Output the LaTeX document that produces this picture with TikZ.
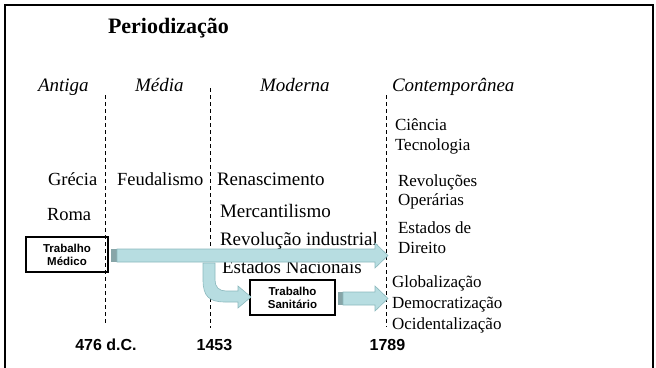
\documentclass[tikz,border=0pt]{standalone}
\usepackage{fontspec}
\setmainfont{Liberation Serif}
\setsansfont{Liberation Sans}
\usetikzlibrary{calc}
\definecolor{arrfill}{RGB}{183,221,225}
\definecolor{arredge}{RGB}{140,185,190}
\definecolor{arrcap}{RGB}{135,165,168}
\begin{document}
\begin{tikzpicture}[x=1pt,y=-1pt,
  every node/.style={inner sep=0pt,outer sep=0pt},
  txt/.style={anchor=base west,font=\fontsize{18.5}{22}\selectfont},
  mtxt/.style={anchor=base west,font=\fontsize{19}{22}\selectfont},
  ctxt/.style={anchor=base west,font=\fontsize{17}{20}\selectfont},
  head/.style={anchor=base west,font=\fontsize{19}{22}\selectfont\itshape},
  datelbl/.style={anchor=base,font=\fontsize{16}{18}\selectfont\sffamily\bfseries},
  tbox/.style={draw,line width=1.2pt,align=center,
    font=\fontsize{11.5}{13}\selectfont\sffamily\bfseries},
  divider/.style={dash pattern=on 4pt off 3pt,line width=0.9pt},
  fatarrow/.style={fill=arrfill,draw=arredge,line width=0.6pt},
  frameline/.style={line width=2.5pt}]
\useasboundingbox (0,0) rectangle (656,367);
% frame
\coordinate (fbl) at (5,372);
\coordinate (ftl) at (5,5);
\coordinate (ftr) at (653,5);
\coordinate (fbr) at (653,372);
\draw[frameline] (fbl) -- (ftl) -- (ftr) -- (fbr);
% title
\node[anchor=base west,font=\fontsize{22}{26}\selectfont\bfseries] (title) at (108,33) {Periodização};
% headings
\node[head] (antiga) at (38,91) {Antiga};
\node[head] (media) at (135,91) {Média};
\node[head] (moderna) at (260,91) {Moderna};
\node[head] (contemp) at (392,91) {Contemporânea};
% dividers
\coordinate (d1t) at (105,95);  \coordinate (d1b) at (105,325);
\coordinate (d2t) at (210,88);  \coordinate (d2b) at (210,328);
\coordinate (d3t) at (386,95);  \coordinate (d3b) at (386,327);
\draw[divider] (d1t) -- (d1b);
\draw[divider] (d2t) -- (d2b);
\draw[divider] (d3t) -- (d3b);
% column texts
\node[txt] (grecia) at (48,185) {Grécia};
\node[txt] (roma) at (47,220) {Roma};
\node[txt] (feud) at (117,185) {Feudalismo};
\node[mtxt] (renas) at (217,185) {Renascimento};
\node[mtxt] (merc) at (220,217) {Mercantilismo};
\node[mtxt] (revind) at (220,245) {Revolução industrial};
\node[mtxt] (estnac) at (222,273) {Estados Nacionais};
\node[ctxt] (ciencia) at (395,130) {Ciência};
\node[ctxt] (tecno) at (395,150) {Tecnologia};
\node[ctxt] (revol) at (398,186) {Revoluções};
\node[ctxt] (oper) at (398,205) {Operárias};
\node[ctxt] (estde) at (398,233) {Estados de};
\node[ctxt] (direito) at (398,253) {Direito};
\node[ctxt] (glob) at (392,287) {Globalização};
\node[ctxt] (demo) at (392,308) {Democratização};
\node[ctxt] (ocid) at (392,329) {Ocidentalização};
% dates
\node[datelbl] (y476) at (106,350) {476 d.C.};
\node[datelbl] (y1453) at (214.5,350) {1453};
\node[datelbl] (y1789) at (387.5,350) {1789};
% boxes
\node[tbox,minimum width=82pt,minimum height=35pt] (tm) at (67,254.5) {Trabalho\\Médico};
\node[tbox,minimum width=85pt,minimum height=35pt] (ts) at (292.5,297.5) {Trabalho\\Sanitário};
% big arrow: Trabalho Medico -> Contemporanea
\fill[arrcap] (111,249) rectangle (117,262);
\draw[fatarrow] (117,249) -- (375,249) -- (375,243) -- (388,255.5) -- (375,268) -- (375,262) -- (117,262) -- cycle;
% bent arrow -> Trabalho Sanitario
\draw[fatarrow] (203,263) -- (203,280) .. controls (203,296) and (209,302) .. (225,302) -- (238,302) -- (238,308) -- (251,297) -- (238,286) -- (238,291) -- (226,291) .. controls (219,291) and (215,287) .. (215,280) -- (215,263) -- cycle;
% arrow Trabalho Sanitario -> Contemporanea
\fill[arrcap] (338,292) rectangle (343,305);
\draw[fatarrow] (343,292) -- (375,292) -- (375,286) -- (388,298.5) -- (375,311) -- (375,305) -- (343,305) -- cycle;
\end{tikzpicture}
\end{document}
